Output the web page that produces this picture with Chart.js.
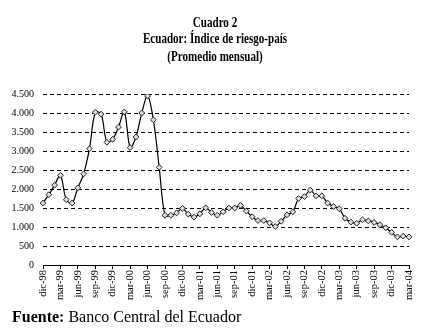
<!DOCTYPE html>
<html>
<head>
<meta charset="utf-8">
<script src="https://cdn.jsdelivr.net/npm/chart.js@4"></script>
<style>
  html, body { margin: 0; padding: 0; background: #fff; }
  #riesgo { display: block; }
</style>
</head>
<body>
<canvas id="riesgo" width="425" height="331"></canvas>
<script>
// meses, dic-98 a mar-04
var meses = [
  'dic-98',
  'ene-99', 'feb-99', 'mar-99', 'abr-99', 'may-99', 'jun-99', 'jul-99', 'ago-99', 'sep-99', 'oct-99', 'nov-99', 'dic-99',
  'ene-00', 'feb-00', 'mar-00', 'abr-00', 'may-00', 'jun-00', 'jul-00', 'ago-00', 'sep-00', 'oct-00', 'nov-00', 'dic-00',
  'ene-01', 'feb-01', 'mar-01', 'abr-01', 'may-01', 'jun-01', 'jul-01', 'ago-01', 'sep-01', 'oct-01', 'nov-01', 'dic-01',
  'ene-02', 'feb-02', 'mar-02', 'abr-02', 'may-02', 'jun-02', 'jul-02', 'ago-02', 'sep-02', 'oct-02', 'nov-02', 'dic-02',
  'ene-03', 'feb-03', 'mar-03', 'abr-03', 'may-03', 'jun-03', 'jul-03', 'ago-03', 'sep-03', 'oct-03', 'nov-03', 'dic-03',
  'ene-04', 'feb-04', 'mar-04'
];

// indice de riesgo-pais, promedio mensual (puntos basicos)
var riesgoPais = [
  1630,
  1850, 2100, 2360, 1720, 1630, 2030, 2400, 3060, 4020, 3970, 3230, 3310,
  3630, 4030, 3090, 3370, 4000, 4450, 3820, 2570, 1310, 1310, 1370, 1490,
  1340, 1260, 1345, 1505, 1380, 1310, 1400, 1500, 1500, 1570, 1420, 1270,
  1170, 1170, 1110, 1010, 1150, 1320, 1400, 1750, 1800, 1970, 1820, 1820,
  1630, 1540, 1480, 1230, 1130, 1100, 1190, 1160, 1120, 1060, 980, 860,
  740, 760, 740
];

var ejeY = { min: 0, max: 4500, paso: 500 };

var titulos = ['Cuadro 2', 'Ecuador: Índice de riesgo-país', '(Promedio mensual)'];
var fuenteEtiqueta = 'Fuente:';
var fuenteTexto = ' Banco Central del Ecuador';

var serif = "'Liberation Serif', 'Times New Roman', serif";

function miles(v) {
  return String(v).replace(/\B(?=(\d{3})+(?!\d))/g, '.');
}

// titulo y fuente dibujados sobre el canvas
var textos = {
  id: 'textos',
  afterDraw: function(chart) {
    var ctx = chart.ctx;
    ctx.save();
    ctx.fillStyle = '#000';
    ctx.textBaseline = 'alphabetic';
    ctx.textAlign = 'center';
    ctx.font = 'bold 14px ' + serif;
    var lineas = [27, 43, 61];
    titulos.forEach(function(t, i) {
      ctx.save();
      ctx.translate(215, lineas[i]);
      ctx.scale(0.79, 1);
      ctx.fillText(t, 0, 0);
      ctx.restore();
    });

    ctx.textAlign = 'left';
    ctx.font = 'bold 16px ' + serif;
    ctx.fillText(fuenteEtiqueta, 12, 322);
    var w = ctx.measureText(fuenteEtiqueta).width;
    ctx.font = '16px ' + serif;
    ctx.fillText(fuenteTexto, 12 + w, 322);
    ctx.restore();
  }
};

new Chart(document.getElementById('riesgo').getContext('2d'), {
  type: 'line',
  data: {
    labels: meses,
    datasets: [{
      label: 'Riesgo-país',
      data: riesgoPais,
      borderColor: '#000',
      borderWidth: 1.2,
      tension: 0.35,
      pointStyle: 'rectRot',
      pointRadius: 2.9,
      pointBackgroundColor: '#dcdcdc',
      pointBorderColor: '#222',
      pointBorderWidth: 1
    }]
  },
  options: {
    responsive: false,
    animation: false,
    layout: {
      padding: { top: 94, right: 16, bottom: 30, left: 0 }
    },
    plugins: {
      legend: { display: false },
      title: { display: false },
      tooltip: { enabled: false }
    },
    scales: {
      x: {
        type: 'category',
        offset: false,
        afterFit: function(scale) { scale.height = 36; },
        grid: {
          drawOnChartArea: false,
          drawTicks: true,
          tickLength: 4,
          color: function(c) { return c.index % 3 === 0 ? '#000' : 'rgba(0,0,0,0)'; }
        },
        border: { display: true, color: '#000', width: 1 },
        ticks: {
          autoSkip: false,
          minRotation: 90,
          maxRotation: 90,
          padding: 1,
          color: '#000',
          font: { family: serif, size: 10.5 },
          callback: function(v, i) { return i % 3 === 0 ? meses[i] : ''; }
        }
      },
      y: {
        min: ejeY.min,
        max: ejeY.max,
        afterFit: function(scale) { scale.width = 43; },
        grid: {
          color: '#000',
          lineWidth: 1,
          drawTicks: false
        },
        border: { display: false, dash: [4, 3] },
        ticks: {
          stepSize: ejeY.paso,
          padding: 9,
          color: '#000',
          font: { family: serif, size: 10 },
          callback: function(v) { return miles(v); }
        }
      }
    }
  },
  plugins: [textos]
});
</script>
</body>
</html>
